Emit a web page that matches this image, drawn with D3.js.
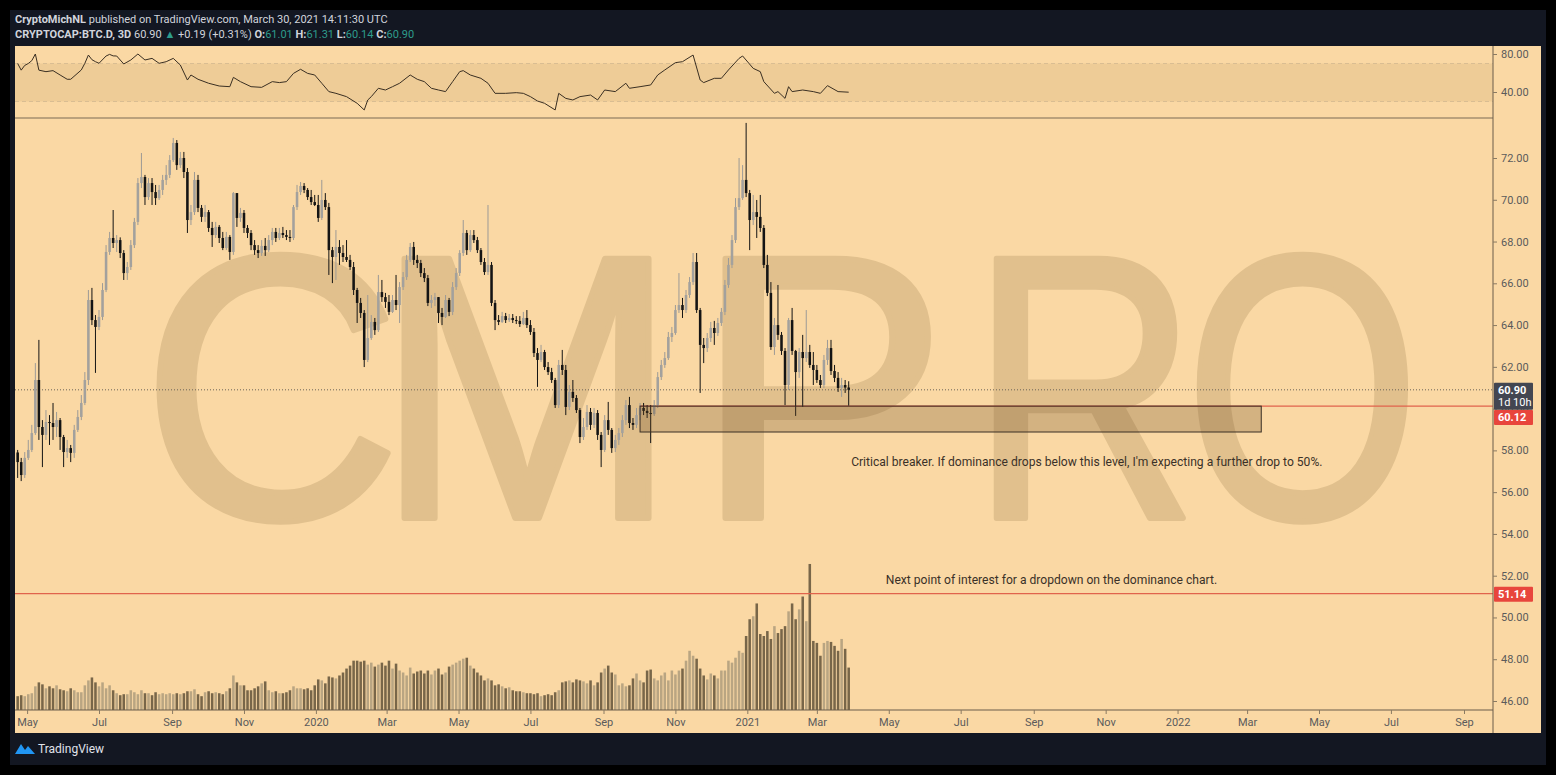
<!DOCTYPE html>
<html><head><meta charset="utf-8">
<script src="https://cdn.jsdelivr.net/npm/d3@7"></script>
<style>body{margin:0;background:#000;}svg{display:block;}</style>
</head><body>
<svg id="c" width="1556" height="775"></svg>
<script>
// ---------- DATA ----------
const firstCandleDate = "2019-04-23";   // 3-day candles
const candleDays = 3;
const firstOpen = 57.9;
const closes = [57.44,56.82,57.64,58.02,58.83,61.37,59.12,58.74,59.36,59.31,
 59.12,59.45,58.64,57.92,58.11,57.88,58.98,59.60,60.27,61.37,
 65.20,64.24,63.91,64.39,65.68,67.50,68.17,67.93,68.07,67.45,
 66.49,66.78,67.83,68.94,70.80,71.09,70.13,70.80,70.37,70.08,
 70.47,70.95,71.19,71.90,72.72,71.66,72.00,71.33,69.03,69.41,
 70.95,69.61,69.18,69.41,68.65,68.31,68.70,68.17,67.69,68.22,
 67.50,70.32,69.13,69.37,68.65,68.41,67.83,67.59,67.45,67.79,
 67.59,68.07,68.46,68.17,68.41,68.31,68.22,68.17,69.65,70.37,
 70.66,70.47,70.13,69.89,69.75,69.13,69.99,69.65,67.59,67.26,
 67.74,67.45,67.26,67.12,66.78,65.68,65.06,64.58,62.33,63.38,
 64.15,63.76,65.58,65.34,65.11,64.63,65.20,64.96,65.82,66.30,
 67.12,67.74,67.12,66.97,66.49,66.25,65.06,65.20,65.34,64.58,
 64.39,65.20,64.63,65.82,66.49,67.45,68.41,67.59,68.31,68.07,
 67.59,67.02,66.54,66.88,65.06,64.24,64.15,64.43,64.24,64.34,
 64.24,64.20,64.05,64.34,64.00,63.67,62.66,62.33,62.71,61.99,
 61.75,61.37,60.17,62.09,61.85,60.08,60.80,60.51,59.93,58.64,
 59.12,59.84,59.22,59.79,58.74,58.02,59.45,58.98,58.11,58.50,
 58.83,59.45,60.17,59.31,59.22,59.69,60.03,59.89,59.79,59.74,
 60.17,61.51,62.09,62.42,63.43,63.62,64.72,64.96,64.72,65.44,
 66.06,67.02,64.72,63.05,62.90,63.38,63.86,63.62,64.10,64.63,
 65.92,66.88,68.07,69.65,70.08,70.95,70.32,69.03,69.41,69.18,
 68.65,66.88,65.54,62.95,64.00,63.53,62.76,61.13,64.24,62.76,
 61.75,62.71,62.42,62.71,62.09,61.85,61.37,61.13,62.33,62.90,
 61.80,61.47,60.99,61.13,61.01,60.90];
const highs = [58.02,57.64,57.92,58.50,59.22,62.18,63.29,59.45,59.93,59.69,
 60.27,59.84,59.55,58.74,58.50,58.26,59.22,59.93,60.65,61.75,
 65.68,65.78,64.48,64.72,66.01,67.83,68.46,69.51,68.31,68.20,
 67.59,67.02,68.07,69.13,71.04,72.24,71.19,71.04,71.04,70.71,
 70.71,71.19,71.66,72.14,72.96,72.86,72.29,72.29,71.52,69.75,
 71.33,71.19,69.75,69.75,69.51,68.94,68.94,68.79,68.46,68.46,
 68.31,70.37,70.23,69.61,69.51,68.79,68.55,68.07,67.83,68.07,
 68.17,68.31,68.65,68.65,68.65,68.70,68.55,68.55,69.75,70.71,
 70.85,70.80,70.56,70.47,70.23,70.23,70.95,70.32,69.85,67.74,
 68.55,68.07,67.83,68.07,67.36,67.02,65.78,65.30,64.72,65.44,
 64.48,64.34,66.40,66.16,65.54,65.44,65.44,66.40,66.06,66.54,
 67.36,67.93,67.98,67.36,67.12,66.73,66.40,65.44,65.54,65.30,
 64.82,65.44,65.30,66.06,66.73,67.59,69.03,68.55,68.55,68.55,
 68.22,67.69,67.21,69.75,67.02,65.20,64.48,64.63,64.58,64.53,
 64.53,64.43,64.43,64.63,64.72,64.24,63.86,62.90,63.05,62.81,
 62.23,61.95,61.47,62.33,62.81,62.09,61.13,61.37,60.65,60.03,
 59.55,60.17,60.03,60.03,59.93,58.88,59.69,60.32,59.07,58.74,
 59.07,59.69,60.41,60.56,59.55,60.03,60.27,60.27,60.17,60.17,
 60.41,61.75,62.33,62.71,63.67,63.91,64.96,66.49,65.30,65.68,
 66.30,67.45,67.45,64.82,63.38,63.62,64.15,64.20,64.34,64.82,
 66.16,67.21,68.31,70.08,72.00,71.66,73.68,70.47,70.23,69.99,
 70.23,68.79,67.36,66.06,64.34,65.92,63.67,62.90,64.34,64.82,
 62.81,62.90,63.53,64.72,63.05,62.71,62.09,61.61,62.57,63.29,
 63.29,62.09,61.75,61.47,61.37,61.31];
const lows = [56.68,56.53,56.68,57.54,57.92,58.74,58.50,57.20,58.50,58.26,
 58.50,58.64,58.02,57.20,57.64,57.44,57.64,58.88,59.45,60.17,
 61.13,64.00,61.71,63.76,64.24,65.58,67.36,67.69,67.50,67.21,
 66.16,66.16,66.64,67.69,68.79,70.56,69.75,69.99,69.75,69.75,
 69.99,70.23,70.71,71.04,71.81,71.43,71.52,71.04,68.41,68.79,
 69.27,69.41,68.94,68.94,68.46,67.74,68.17,67.93,67.59,67.59,
 67.12,67.36,68.70,68.94,68.41,68.17,67.59,67.36,67.21,67.31,
 67.31,67.50,67.83,67.98,68.07,68.17,68.07,67.98,68.07,69.51,
 70.23,70.32,69.99,69.75,69.70,68.94,69.03,69.51,66.40,66.01,
 66.16,66.88,67.02,67.02,66.64,65.44,64.10,64.34,61.99,62.23,
 63.29,63.53,63.67,65.11,64.82,64.48,64.58,64.72,64.10,65.68,
 66.16,67.02,66.88,66.73,66.30,66.06,64.91,64.82,64.91,64.10,
 64.00,64.34,64.43,64.48,65.68,66.35,67.31,67.36,67.50,67.93,
 67.45,66.88,66.40,66.40,64.91,63.76,64.00,64.10,64.10,64.15,
 64.10,64.05,63.91,64.00,63.86,63.53,62.47,61.04,62.23,61.85,
 61.61,61.23,60.03,60.03,61.61,59.69,59.93,60.32,59.79,58.35,
 58.50,58.98,58.98,59.07,58.50,57.20,57.92,58.74,57.88,57.92,
 58.26,58.64,59.22,59.07,58.98,59.07,59.45,59.69,59.55,58.35,
 59.65,60.03,61.37,61.95,62.33,63.19,63.53,64.58,64.34,64.58,
 65.30,65.92,64.58,60.75,62.18,62.71,63.19,63.05,63.48,63.96,
 64.48,65.78,66.73,67.93,69.51,69.99,70.13,67.59,68.79,68.17,
 68.46,66.73,65.39,62.81,62.57,63.29,62.57,60.17,60.89,62.57,
 59.65,61.47,60.08,62.23,61.95,61.13,61.23,60.99,60.99,62.09,
 61.61,61.27,60.80,60.56,60.75,60.14];
// volume (relative units)
const volumes = [14,15,14,16,17,24,28,26,22,24,
 22,25,21,20,19,22,20,18,18,25,
 30,33,28,24,28,22,25,20,17,15,
 16,16,20,18,16,20,17,17,15,18,
 16,17,16,17,16,17,16,17,19,19,
 21,16,14,18,19,17,18,17,16,19,
 22,35,28,25,25,20,20,22,24,27,
 29,20,18,19,17,17,18,20,24,22,
 22,21,22,20,25,31,30,27,34,33,
 32,35,38,42,45,50,50,49,50,46,
 48,44,46,48,45,50,42,47,40,38,
 35,43,37,39,40,37,40,36,40,42,
 36,38,44,46,48,50,52,53,45,42,
 38,35,30,32,30,25,26,24,22,23,
 20,19,19,18,17,17,16,17,14,15,
 16,15,18,20,28,29,30,28,31,30,
 29,27,30,25,28,38,42,45,38,36,
 25,27,24,25,32,37,30,28,40,41,
 32,30,35,38,30,40,36,40,42,50,
 60,55,52,42,35,31,37,35,32,40,
 40,50,48,53,60,58,75,92,95,108,
 77,75,80,72,85,78,82,85,100,108,
 92,102,115,90,148,70,68,55,68,70,
 69,65,60,72,62,43];
// RSI readings: candle index + value
const rsiIndex = [0,1,2,3,4,5,6,8,10,12,14,15,18,19,20,21,22,23,25,26,
 27,28,30,32,34,36,38,40,42,44,46,48,49,51,54,57,60,61,63,66,
 69,72,74,76,78,80,82,84,86,88,90,93,96,98,99,100,102,104,106,108,
 111,113,115,117,119,121,123,125,126,128,131,133,135,138,141,143,145,147,149,152,
 153,155,157,159,162,164,166,169,172,173,176,179,181,183,186,188,191,193,194,197,
 199,201,204,205,208,210,211,214,215,217,218,219,222,225,227,229,232,235];
const rsiValues = [70,63,68,70,73,80,63,61.4,62.5,57.9,53.4,53.4,63.2,70.2,78.9,74,71.9,70.2,77.9,79.6,
 78,77.9,69.5,73.7,80,73.7,75.4,70.2,71.9,75.4,68.4,52.6,57.9,53.4,49.2,46.3,45.6,55.4,50.9,45.6,
 44.9,50.9,49.9,50.9,59.6,63.9,59.6,57.9,49.2,40.4,38.6,35.1,28.1,21.1,31.6,35.1,43.9,42.1,45.6,49.2,
 57.9,53.4,50.9,43.9,42.1,40.4,50.9,61.4,62.5,57.9,54.4,49.2,38.6,38.6,39.3,38.6,35.1,30.5,28.1,21.1,
 38.6,33.3,31.6,35.1,36.8,31.6,42.1,40.4,49.2,43.9,45.6,47.4,57.9,63.2,70.9,71.9,78.9,52.6,49.9,54.4,
 54.4,63.2,75.4,77.9,64.9,61.4,50.9,38.6,40.4,33.3,45.6,40.4,42.1,40.4,38.6,46.7,40.4,39.8];
const rsiBand = [30, 70];
const priceTicks = [46,48,50,52,54,56,58,60,62,64,66,68,70,72];
const rsiTicks = [40, 80];
const lastPrice = 60.90, lastCountdown = "1d 10h";
const levelPrices = [60.12, 51.14];
const levelStarts = ["2020-10-02", null];
const zone = {start:"2020-10-02", end:"2022-03-13", top:60.12, bottom:58.88};
const notes = [
  {text:"Critical breaker. If dominance drops below this level, I'm expecting a further drop to 50%.", date:"2021-10-16", price:57.4},
  {text:"Next point of interest for a dropdown on the dominance chart.", date:"2021-09-16", price:51.75}
];
const watermark = "CMPRO";
const header1 = ["CryptoMichNL", " published on TradingView.com, March 30, 2021 14:11:30 UTC"];
const ohlc = {o:"61.01", h:"61.31", l:"60.14", c:"60.90", chg:"+0.19 (+0.31%)"};

// ---------- LAYOUT ----------
const L = 15, R = 1493, AX = 1541;
const rsiTop = 46, rsiBot = 118, mainBot = 710, chartBot = 733;
const BG = "#fad8a4", TXT = "#5b5b5b";
const font = "Roboto, 'Liberation Sans', Arial, sans-serif";
// watermark glyph ink spans (layout only)
const wmSpan = [[155,392],[400,657],[721,935],[992,1190],[1196,1410]];
const wmBase = 518, wmSize = 377, wmFont = "'Liberation Sans', Arial, sans-serif", wmStroke = 6;

const svg = d3.select("#c");
const parse = d3.utcParse("%Y-%m-%d");
const t0 = parse(firstCandleDate);
const candles = closes.map((c,i)=>{
  const o = i===0 ? firstOpen : closes[i-1];
  return {date: d3.utcDay.offset(t0, candleDays*i), o, c,
          h: Math.max(highs[i], o, c), l: Math.min(lows[i], o, c), v: volumes[i]};
});

const x = d3.scaleUtc().domain([Date.UTC(2019,6,1), Date.UTC(2022,8,1)]).range([99,1464]);
const y = d3.scaleLinear().domain([46,72]).range([701,158]);
const yr = d3.scaleLinear().domain([40,80]).range([92,54]);
const yv = d3.scaleLinear().domain([0,150]).range([mainBot, 562]);

// frame
svg.append("rect").attr("width",1556).attr("height",775).attr("fill","#000");
svg.append("rect").attr("x",10).attr("y",10).attr("width",1536).attr("height",755).attr("fill","#131722");
svg.append("rect").attr("x",L).attr("y",rsiTop).attr("width",AX-L).attr("height",chartBot-rsiTop).attr("fill",BG);

const defs = svg.append("defs");
defs.append("clipPath").attr("id","mainClip").append("rect").attr("x",L).attr("y",rsiBot).attr("width",R-L).attr("height",mainBot-rsiBot);
defs.append("clipPath").attr("id","rsiClip").append("rect").attr("x",L).attr("y",rsiTop).attr("width",R-L).attr("height",rsiBot-rsiTop);

// watermark (each glyph fitted to its span using measured ink)
const main = svg.append("g").attr("clip-path","url(#mainClip)");
const mctx = document.createElement("canvas").getContext("2d");
mctx.font = `${wmSize}px ${wmFont}`;
const wm = main.append("g");
watermark.split("").forEach((ch,i)=>{
  const m = mctx.measureText(ch);
  const inkL = -m.actualBoundingBoxLeft, inkR = m.actualBoundingBoxRight;
  const [a,b] = wmSpan[i];
  const sx = (b - a - wmStroke) / Math.max(1, inkR - inkL);
  const tx = a + wmStroke/2 - inkL*sx;
  wm.append("text").attr("transform",`translate(${tx},${wmBase}) scale(${sx},1)`)
    .attr("font-family",wmFont).attr("font-size",wmSize)
    .attr("fill","#e1c08d").attr("stroke","#e1c08d").attr("stroke-width",wmStroke).attr("stroke-linejoin","round")
    .text(ch);
});

// volume
const bw = Math.max(1, (x(d3.utcDay.offset(t0,3)) - x(t0)) * 0.72);
main.append("g").selectAll("rect").data(candles).join("rect")
  .attr("x", d=>x(d.date)-bw/2).attr("width", bw)
  .attr("y", d=>yv(d.v)).attr("height", d=>mainBot-yv(d.v))
  .attr("fill", d=> d.c>=d.o ? "#b9a582" : "#786649");

// levels
main.append("line").attr("x1",L).attr("x2",R).attr("y1",y(lastPrice)).attr("y2",y(lastPrice))
  .attr("stroke","#6b6258").attr("stroke-dasharray","1,2");
levelPrices.forEach((p,i)=>{
  const xs = levelStarts[i] ? x(parse(levelStarts[i])) : L;
  main.append("line").attr("x1",xs).attr("x2",R).attr("y1",y(p)).attr("y2",y(p))
    .attr("stroke","#e0634c").attr("stroke-width",1.2);
});

// candles
const cg = main.append("g");
cg.selectAll("line").data(candles).join("line")
  .attr("x1",d=>x(d.date)).attr("x2",d=>x(d.date))
  .attr("y1",d=>y(d.h)).attr("y2",d=>y(d.l))
  .attr("stroke",d=> d.c>=d.o ? "#9c9a96" : "#141414").attr("stroke-width",1);
cg.selectAll("rect").data(candles).join("rect")
  .attr("x",d=>x(d.date)-bw/2).attr("width",bw)
  .attr("y",d=>y(Math.max(d.o,d.c))).attr("height",d=>Math.max(1, Math.abs(y(d.o)-y(d.c))))
  .attr("fill",d=> d.c>=d.o ? "#a3a19d" : "#141414");

// zone box
main.append("rect").attr("x",x(parse(zone.start))).attr("y",y(zone.top))
  .attr("width",x(parse(zone.end))-x(parse(zone.start))).attr("height",y(zone.bottom)-y(zone.top))
  .attr("fill","rgba(110,80,40,0.28)").attr("stroke","#3b3026").attr("stroke-width",1);

// notes
notes.forEach(n=>{
  main.append("text").attr("x",x(parse(n.date))).attr("y",y(n.price)).attr("text-anchor","middle")
   .attr("dominant-baseline","middle").attr("font-family",font).attr("font-size",12.1)
   .attr("fill","#3a3128").text(n.text);
});

// RSI
const rg = svg.append("g").attr("clip-path","url(#rsiClip)");
rg.append("rect").attr("x",L).attr("width",R-L).attr("y",yr(rsiBand[1])).attr("height",yr(rsiBand[0])-yr(rsiBand[1]))
  .attr("fill","rgba(160,120,70,0.13)");
rsiBand.forEach(v=> rg.append("line").attr("x1",L).attr("x2",R).attr("y1",yr(v)).attr("y2",yr(v))
  .attr("stroke","#d9bd92").attr("stroke-dasharray","4,3"));
const rsiPts = rsiIndex.map((idx,i)=>({date:candles[idx].date, v:rsiValues[i]}));
rg.append("path").datum(rsiPts).attr("fill","none").attr("stroke","#3a2f22").attr("stroke-width",1)
  .attr("d", d3.line().x(d=>x(d.date)).y(d=>yr(d.v)));

// separators and axes
svg.append("line").attr("x1",L).attr("x2",R).attr("y1",rsiBot).attr("y2",rsiBot).attr("stroke","#7a6a55");
svg.append("line").attr("x1",R).attr("x2",R).attr("y1",rsiTop).attr("y2",chartBot).attr("stroke","#6a5c4a");
svg.append("line").attr("x1",L).attr("x2",R).attr("y1",mainBot).attr("y2",mainBot).attr("stroke","#6a5c4a");

function styleAxis(g){
  g.select(".domain").remove();
  g.selectAll(".tick line").attr("stroke","#8a7a62");
  g.selectAll(".tick text").attr("fill",TXT).attr("font-family",font).attr("font-size",11);
}
svg.append("g").attr("transform",`translate(${R},0)`)
  .call(d3.axisRight(y).tickValues(priceTicks).tickFormat(d3.format(".2f")).tickSize(4).tickPadding(4)).call(styleAxis);
svg.append("g").attr("transform",`translate(${R},0)`)
  .call(d3.axisRight(yr).tickValues(rsiTicks).tickFormat(d3.format(".2f")).tickSize(4).tickPadding(4)).call(styleAxis);
const fmt = d => d.getUTCMonth()===0 ? d3.utcFormat("%Y")(d) : d3.utcFormat("%b")(d);
const timeTicks = d3.utcMonth.every(2).range(x.invert(L), x.invert(R));
svg.append("g").attr("transform",`translate(0,${mainBot})`)
  .call(d3.axisBottom(x).tickValues(timeTicks).tickFormat(fmt).tickSize(4).tickPadding(4)).call(styleAxis);

// price labels
function priceLabel(yc, lines, fill){
  const h = lines.length*12+3;
  const g = svg.append("g");
  g.append("rect").attr("x",R+1).attr("y",yc-7).attr("width",39).attr("height",h).attr("fill",fill).attr("rx",1);
  lines.forEach((t,i)=> g.append("text").attr("x",R+5).attr("y",yc+4+i*12).attr("font-family",font)
    .attr("font-size",11).attr("font-weight", i===0?"bold":"normal").attr("fill","#fff").text(t));
}
priceLabel(y(lastPrice), [d3.format(".2f")(lastPrice), lastCountdown], "#434651");
priceLabel(y(levelPrices[0])+11, [d3.format(".2f")(levelPrices[0])], "#e8453c");
priceLabel(y(levelPrices[1]), [d3.format(".2f")(levelPrices[1])], "#e8453c");

// header
const h1 = svg.append("text").attr("x",15).attr("y",23).attr("font-family",font).attr("font-size",11).attr("fill","#d1d4dc");
h1.append("tspan").attr("font-weight","bold").text(header1[0]);
h1.append("tspan").text(header1[1]);
const h2 = svg.append("text").attr("x",15).attr("y",38).attr("font-family",font).attr("font-size",11).attr("fill","#d1d4dc");
h2.append("tspan").attr("font-weight","bold").text("CRYPTOCAP:BTC.D, 3D");
h2.append("tspan").text(" " + ohlc.c + " ");
h2.append("tspan").attr("fill","#2e9c8c").text("▲");
h2.append("tspan").text(" " + ohlc.chg + " ");
[["O:",ohlc.o],["H:",ohlc.h],["L:",ohlc.l],["C:",ohlc.c]].forEach(([k,v],i)=>{
  h2.append("tspan").attr("font-weight","bold").text((i?" ":"")+k);
  h2.append("tspan").attr("fill","#2e9c8c").text(v);
});

// footer
const fg = svg.append("g").attr("transform","translate(15,742)");
fg.append("path").attr("d","M0 12 L6 2 L10 8 L13 4 L20 12 Z").attr("fill","#2196f3");
fg.append("text").attr("x",23).attr("y",11).attr("font-family",font).attr("font-size",12).attr("fill","#e0e3eb").text("TradingView");
</script>
</body></html>
